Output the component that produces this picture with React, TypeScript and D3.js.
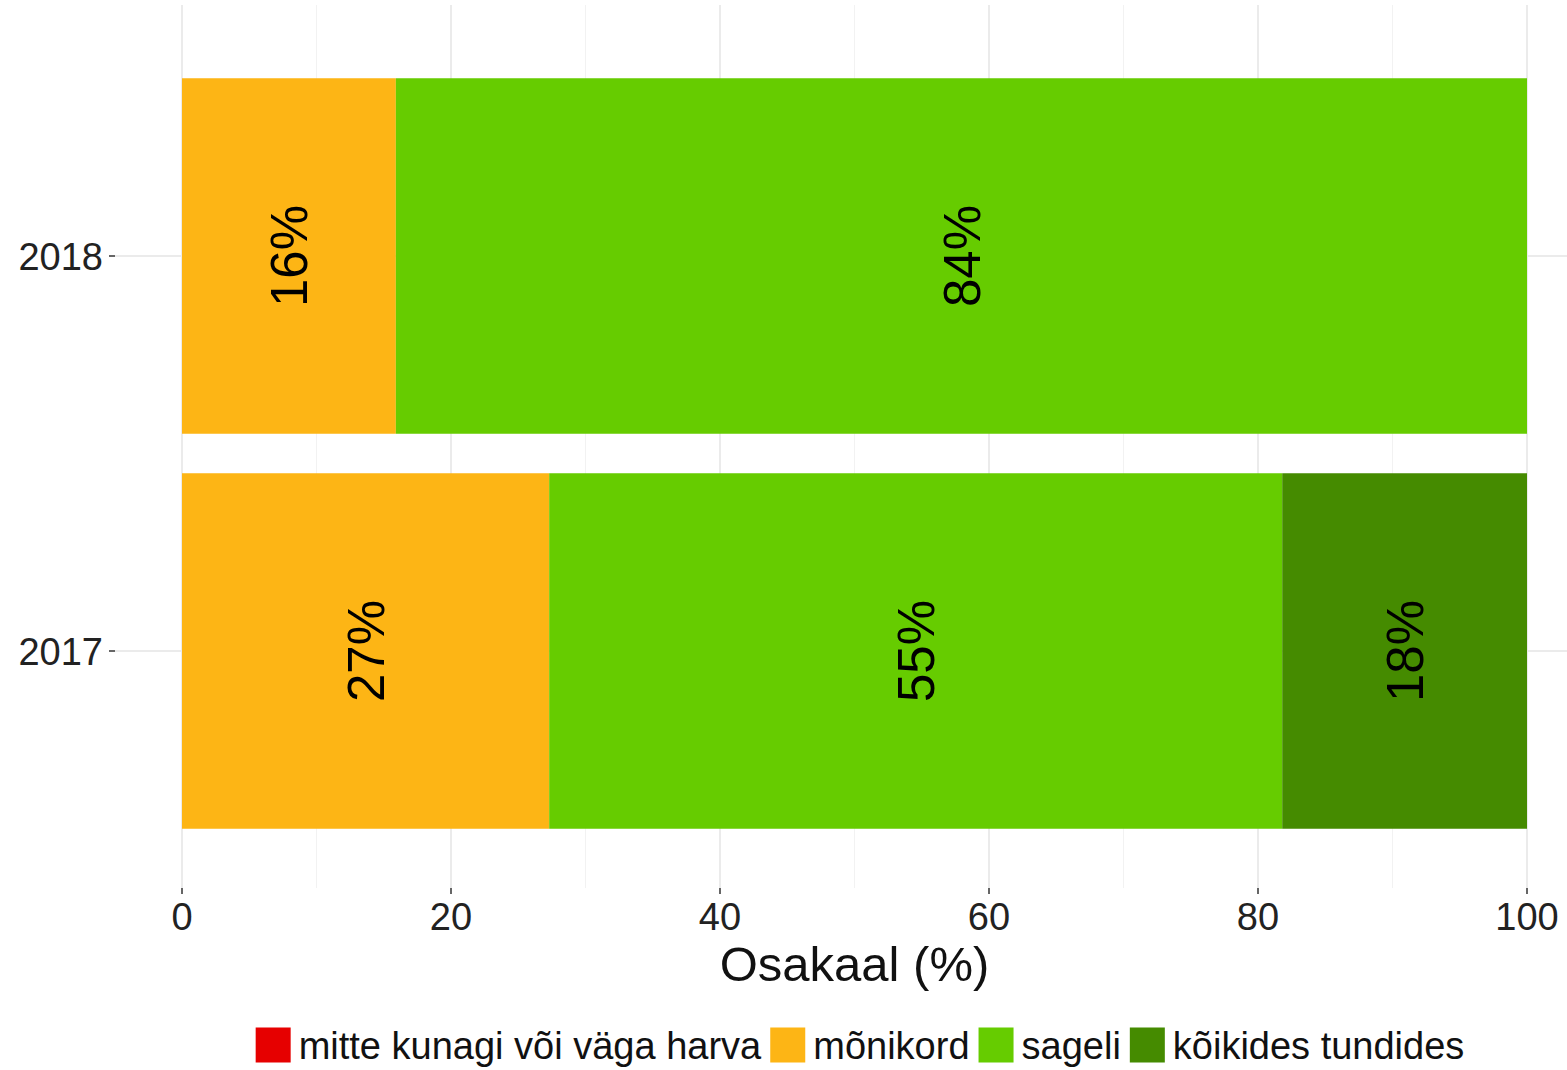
import React, { useEffect, useRef } from "react";
import * as d3 from "d3";

const categories = ["2018", "2017"];
const seriesNames = ["mitte kunagi või väga harva", "mõnikord", "sageli", "kõikides tundides"];
const seriesColors = ["#E60000", "#FDB515", "#66CC00", "#458B00"];
const values2018 = [0, 15.9, 84.1, 0];
const values2017 = [0, 27.3, 54.5, 18.2];
const xTicks = [0, 20, 40, 60, 80, 100];
const xMinor = [10, 30, 50, 70, 90];
const xTitle = "Osakaal (%)";

const W = 1567;
const H = 1070;
const FONT = "'Liberation Sans', Arial, Helvetica, sans-serif";

export default function App() {
  const ref = useRef<SVGSVGElement | null>(null);

  useEffect(() => {
    const svg = d3.select(ref.current);
    svg.selectAll("*").remove();

    const x = d3.scaleLinear().domain([0, 100]).range([182, 1527]);
    const y = d3.scalePoint<string>().domain(categories).range([19, 888]).padding(0.6);
    const step = y.step();
    const barH = step * 0.9;
    const panelTop = 5;
    const panelBottom = 888;

    const g = svg.append("g");

    // grid
    g.selectAll("line.minor")
      .data(xMinor)
      .join("line")
      .attr("x1", (d) => x(d)).attr("x2", (d) => x(d))
      .attr("y1", panelTop).attr("y2", panelBottom)
      .attr("stroke", "#f2f2f2").attr("stroke-width", 1);
    g.selectAll("line.major")
      .data(xTicks)
      .join("line")
      .attr("x1", (d) => x(d)).attr("x2", (d) => x(d))
      .attr("y1", panelTop).attr("y2", panelBottom)
      .attr("stroke", "#ebebeb").attr("stroke-width", 2);
    g.selectAll("line.hgrid")
      .data(categories)
      .join("line")
      .attr("x1", 115).attr("x2", 1567)
      .attr("y1", (d) => y(d)!).attr("y2", (d) => y(d)!)
      .attr("stroke", "#ebebeb").attr("stroke-width", 2);

    const rows = [
      { cat: "2018", vals: values2018 },
      { cat: "2017", vals: values2017 },
    ];

    rows.forEach((row) => {
      let cum = 0;
      const segs = row.vals.map((v, i) => {
        const s = { start: cum, end: cum + v, v, i };
        cum += v;
        return s;
      });
      const cy = y(row.cat)!;
      g.append("g")
        .selectAll("rect")
        .data(segs.filter((s) => s.v > 0))
        .join("rect")
        .attr("x", (s) => x(s.start))
        .attr("width", (s) => x(s.end) - x(s.start))
        .attr("y", cy - barH / 2)
        .attr("height", barH)
        .attr("fill", (s) => seriesColors[s.i]);
      g.append("g")
        .selectAll("text")
        .data(segs.filter((s) => s.v > 0))
        .join("text")
        .attr("transform", (s) => `translate(${x((s.start + s.end) / 2)},${cy}) rotate(-90)`)
        .attr("text-anchor", "middle")
        .attr("dy", "0.36em")
        .attr("font-family", FONT)
        .attr("font-size", 51)
        .attr("fill", "#000")
        .text((s) => `${Math.round(s.v)}%`);
    });

    // x axis ticks and labels
    g.selectAll("line.xtick")
      .data(xTicks)
      .join("line")
      .attr("x1", (d) => x(d)).attr("x2", (d) => x(d))
      .attr("y1", 888).attr("y2", 894)
      .attr("stroke", "#333").attr("stroke-width", 1.5);
    g.selectAll("text.xlab")
      .data(xTicks)
      .join("text")
      .attr("x", (d) => x(d))
      .attr("y", 930)
      .attr("text-anchor", "middle")
      .attr("font-family", FONT)
      .attr("font-size", 38)
      .attr("fill", "#222")
      .text((d) => String(d));

    // y axis ticks and labels
    g.selectAll("line.ytick")
      .data(categories)
      .join("line")
      .attr("x1", 109).attr("x2", 115)
      .attr("y1", (d) => y(d)!).attr("y2", (d) => y(d)!)
      .attr("stroke", "#333").attr("stroke-width", 1.5);
    g.selectAll("text.ylab")
      .data(categories)
      .join("text")
      .attr("x", 103)
      .attr("y", (d) => y(d)!)
      .attr("dy", "0.36em")
      .attr("text-anchor", "end")
      .attr("font-family", FONT)
      .attr("font-size", 38)
      .attr("fill", "#222")
      .text((d) => d);

    // x title
    g.append("text")
      .attr("x", (x(0) + x(100)) / 2)
      .attr("y", 981)
      .attr("text-anchor", "middle")
      .attr("font-family", FONT)
      .attr("font-size", 49)
      .attr("fill", "#111")
      .text(xTitle);

    // legend
    const sq = 35;
    const gapSqText = 8;
    const gapItems = 9;
    const legFont = 38;
    const canvas = document.createElement("canvas");
    const ctx = canvas.getContext("2d")!;
    ctx.font = `${legFont}px ${FONT}`;
    const widths = seriesNames.map((n) => ctx.measureText(n).width);
    const total = widths.reduce((a, b) => a + b, 0) + seriesNames.length * (sq + gapSqText) + (seriesNames.length - 1) * gapItems;
    let lx = 860 - total / 2;
    const ly = 1045;
    const leg = g.append("g");
    seriesNames.forEach((n, i) => {
      leg.append("rect")
        .attr("x", lx).attr("y", ly - sq / 2)
        .attr("width", sq).attr("height", sq)
        .attr("fill", seriesColors[i]);
      leg.append("text")
        .attr("x", lx + sq + gapSqText)
        .attr("y", ly)
        .attr("dy", "0.36em")
        .attr("font-family", FONT)
        .attr("font-size", legFont)
        .attr("fill", "#111")
        .text(n);
      lx += sq + gapSqText + widths[i] + gapItems;
    });
  }, []);

  return (
    <svg
      ref={ref}
      width={W}
      height={H}
      style={{ position: "absolute", left: 0, top: 0, background: "#fff" }}
    />
  );
}
